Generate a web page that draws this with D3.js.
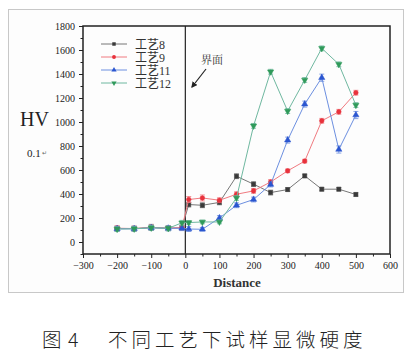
<!DOCTYPE html>
<html><head><meta charset="utf-8">
<script src="https://cdn.jsdelivr.net/npm/d3@7"></script>
<style>body{margin:0;background:#fff;}svg{display:block;}</style>
</head><body>
<svg id="c" width="413" height="354"></svg>
<script>
const distance = [-200,-150,-100,-50,-10,10,50,100,150,200,250,300,350,400,450,500];
const seriesNames = ["工艺8","工艺9","工艺11","工艺12"];
const hv8  = [112,112,122,115,118,312,306,330,548,482,412,437,551,440,440,396];
const hv9  = [115,112,120,116,120,354,367,348,398,426,500,593,674,1010,1085,1244];
const hv11 = [110,110,118,114,115,108,106,200,306,354,479,849,1149,1369,771,1058];
const hv12 = [108,110,118,114,160,162,167,167,367,968,1419,1091,1350,1614,1481,1141];
const err8  = [20,20,25,20,20,20,20,20,20,20,20,15,15,15,15,15];
const err9  = [20,20,20,20,20,25,25,20,20,20,20,15,15,20,20,20];
const err11 = [20,20,20,20,20,20,15,20,20,20,20,25,25,30,30,30];
const err12 = [20,20,20,20,20,15,15,15,20,20,20,20,20,20,20,20];
const xTicks = [-300,-200,-100,0,100,200,300,400,500,600];
const yTicks = [0,200,400,600,800,1000,1200,1400,1600,1800];

const svg = d3.select("#c");
const L=83,R=390,T=26,B=254;
const x = d3.scaleLinear().domain([-300,600]).range([L,R]);
const y = d3.scaleLinear().domain([-100,1800]).range([B,T]);
const serif = "'Liberation Serif','DejaVu Serif',serif";

// outer frame
svg.append("rect").attr("x",8.5).attr("y",9.5).attr("width",395).attr("height",283)
  .attr("fill","#fdfdfd").attr("stroke","#c8c8c8").attr("stroke-width",1);

// axes
const ax = svg.append("g").attr("transform",`translate(0,${B})`)
  .call(d3.axisBottom(x).tickValues(xTicks).tickSize(4).tickPadding(4).tickFormat(d3.format("d")));
const axm = svg.append("g").attr("transform",`translate(0,${B})`)
  .call(d3.axisBottom(x).tickValues(d3.range(-250,600,100)).tickSize(2.5).tickFormat(""));
const ay = svg.append("g").attr("transform",`translate(${L},0)`)
  .call(d3.axisLeft(y).tickValues(yTicks).tickSize(4).tickPadding(4).tickFormat(d3.format("d")));
const aym = svg.append("g").attr("transform",`translate(${L},0)`)
  .call(d3.axisLeft(y).tickValues(d3.range(-100,1800,200)).tickSize(2.5).tickFormat(""));
[ax,axm,ay,aym].forEach(g=>{
  g.select(".domain").remove();
  g.selectAll("line").attr("stroke","#222");
  g.selectAll("text").attr("font-family",serif).attr("font-size",10).attr("fill","#222");
});

// plot frame
svg.append("rect").attr("x",L).attr("y",T).attr("width",R-L).attr("height",B-T)
  .attr("fill","none").attr("stroke","#222").attr("stroke-width",1.5);
// interface line
svg.append("line").attr("x1",x(0)).attr("x2",x(0)).attr("y1",T).attr("y2",B)
  .attr("stroke","#222").attr("stroke-width",1.2);

const series = [
  {name:seriesNames[0], v:hv8, e:err8, c:"#3a3a3a", lc:"#777", sym:d3.symbolSquare},
  {name:seriesNames[1], v:hv9, e:err9, c:"#e8323c", lc:"#f07a80", sym:d3.symbolCircle},
  {name:seriesNames[2], v:hv11, e:err11, c:"#2b56d0", lc:"#6c8fe0", sym:d3.symbolTriangle},
  {name:seriesNames[3], v:hv12, e:err12, c:"#2f9a5a", lc:"#6fb8a0", sym:d3.symbolTriangle, flip:true}
];
const line = d3.line().x((d,i)=>x(distance[i])).y(d=>y(d));
series.forEach(s=>{
  const g = svg.append("g");
  g.append("path").attr("d",line(s.v)).attr("fill","none").attr("stroke",s.lc).attr("stroke-width",1);
  s.v.forEach((v,i)=>{
    const cx=x(distance[i]);
    g.append("line").attr("x1",cx).attr("x2",cx).attr("y1",y(v-s.e[i])).attr("y2",y(v+s.e[i])).attr("stroke",s.lc).attr("stroke-width",0.8);
    [v-s.e[i],v+s.e[i]].forEach(t=>g.append("line").attr("x1",cx-2.5).attr("x2",cx+2.5).attr("y1",y(t)).attr("y2",y(t)).attr("stroke",s.lc).attr("stroke-width",0.8));
    g.append("path").attr("d",d3.symbol().type(s.sym).size(17)())
      .attr("transform",`translate(${cx},${y(v)})${s.flip?" rotate(180)":""}`)
      .attr("fill",s.c).attr("stroke",s.c).attr("stroke-width",0.5);
  });
});

// legend
series.forEach((s,i)=>{
  const ly = 44 + i*13;
  svg.append("line").attr("x1",101).attr("x2",127).attr("y1",ly).attr("y2",ly).attr("stroke",s.lc).attr("stroke-width",1);
  svg.append("path").attr("d",d3.symbol().type(s.sym).size(12)())
    .attr("transform",`translate(114,${ly})${s.flip?" rotate(180)":""}`).attr("fill",s.c);
  svg.append("text").attr("x",135).attr("y",ly+4.5).text(s.name)
    .attr("font-family",serif+",'Noto Sans CJK SC'").attr("font-size",12).attr("fill","#333");
});

// annotation
svg.append("text").attr("x",201).attr("y",64).text("界面")
  .attr("font-family","'Noto Serif CJK SC','Noto Sans CJK SC'").attr("font-size",11).attr("fill","#333");
svg.append("defs").append("marker").attr("id","ah").attr("viewBox","0 0 10 10").attr("refX",8).attr("refY",5)
  .attr("markerWidth",5).attr("markerHeight",5).attr("orient","auto")
  .append("path").attr("d","M0,0L10,5L0,10z").attr("fill","#222");
svg.append("line").attr("x1",206).attr("y1",69).attr("x2",192).attr("y2",87)
  .attr("stroke","#222").attr("stroke-width",1.2).attr("marker-end","url(#ah)");

// y label
svg.append("text").attr("x",20).attr("y",126).text("HV")
  .attr("font-family",serif).attr("font-size",20).attr("fill","#222");
svg.append("text").attr("x",27).attr("y",157).text("0.1")
  .attr("font-family",serif).attr("font-size",11).attr("fill","#222");
svg.append("text").attr("x",42).attr("y",155).text("↵")
  .attr("font-family","'DejaVu Sans'").attr("font-size",6).attr("fill","#666");
// x label
svg.append("text").attr("x",237).attr("y",287).attr("text-anchor","middle").text("Distance")
  .attr("font-family",serif).attr("font-size",13).attr("font-weight","bold").attr("fill","#333");

// caption
svg.append("text").attr("x",42).attr("y",347).text("图")
  .attr("font-family","'Noto Sans CJK SC'").attr("font-size",19.5).attr("font-weight",300).attr("fill","#222");
svg.append("text").attr("x",68).attr("y",347).text("4")
  .attr("font-family","'Noto Sans CJK SC'").attr("font-size",19.5).attr("font-weight",300).attr("fill","#222");
svg.append("text").attr("x",108).attr("y",347).text("不同工艺下试样显微硬度")
  .attr("font-family","'Noto Sans CJK SC'").attr("font-size",19.5).attr("font-weight",300)
  .attr("letter-spacing","4px").attr("fill","#222");
</script>
</body></html>
